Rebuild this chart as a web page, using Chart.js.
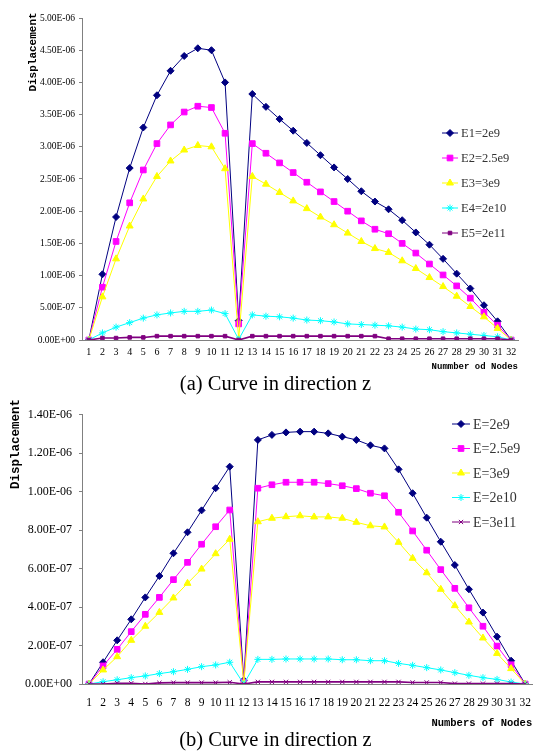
<!DOCTYPE html>
<html>
<head>
<meta charset="utf-8">
<script src="https://cdn.jsdelivr.net/npm/chart.js@4.4.0/dist/chart.umd.min.js"></script>
<style>
  body { margin: 0; background: #fff; width: 543px; height: 752px; position: relative; overflow: hidden; }
  canvas { position: absolute; left: 0; }
  #chartA { top: 0; }
  #chartB { top: 390px; }
  .cap { position: absolute; left: 4px; width: 543px; text-align: center; font: 20.5px "Liberation Serif", serif; line-height: 1; color: #000; }
</style>
</head>
<body>
<canvas id="chartA" width="543" height="375"></canvas>
<canvas id="chartB" width="543" height="345"></canvas>
<div class="cap" style="top:373px">(a) Curve in direction z</div>
<div class="cap" style="top:729px">(b) Curve in direction z</div>
<script>
const nodes = ['1','2','3','4','5','6','7','8','9','10','11','12','13','14','15','16',
  '17','18','19','20','21','22','23','24','25','26','27','28','29','30','31','32'];

// (a) displacement, first curve
const labelsA = ['E1=2e9', 'E2=2.5e9', 'E3=3e9', 'E4=2e10', 'E5=2e11'];
const aE1 = [0, 1.02e-6, 1.91e-6, 2.67e-6, 3.30e-6, 3.80e-6, 4.18e-6, 4.41e-6, 4.53e-6, 4.50e-6, 4.00e-6, 0.30e-6,
  3.82e-6, 3.62e-6, 3.43e-6, 3.25e-6, 3.06e-6, 2.87e-6, 2.68e-6, 2.50e-6, 2.31e-6, 2.15e-6, 2.03e-6, 1.86e-6,
  1.67e-6, 1.48e-6, 1.26e-6, 1.03e-6, 0.80e-6, 0.54e-6, 0.29e-6, 0];
const aE2 = [0, 0.82e-6, 1.53e-6, 2.13e-6, 2.64e-6, 3.05e-6, 3.34e-6, 3.54e-6, 3.63e-6, 3.61e-6, 3.21e-6, 0.25e-6,
  3.05e-6, 2.90e-6, 2.75e-6, 2.60e-6, 2.45e-6, 2.30e-6, 2.15e-6, 2.00e-6, 1.85e-6, 1.72e-6, 1.65e-6, 1.50e-6,
  1.35e-6, 1.18e-6, 1.01e-6, 0.84e-6, 0.65e-6, 0.43e-6, 0.23e-6, 0];
const aE3 = [0, 0.67e-6, 1.26e-6, 1.77e-6, 2.19e-6, 2.54e-6, 2.78e-6, 2.95e-6, 3.02e-6, 3.00e-6, 2.66e-6, 0.02e-6,
  2.54e-6, 2.42e-6, 2.29e-6, 2.16e-6, 2.04e-6, 1.91e-6, 1.79e-6, 1.66e-6, 1.53e-6, 1.42e-6, 1.36e-6, 1.23e-6,
  1.11e-6, 0.97e-6, 0.83e-6, 0.68e-6, 0.52e-6, 0.36e-6, 0.18e-6, 0];
const aE4 = [0, 0.11e-6, 0.20e-6, 0.27e-6, 0.34e-6, 0.39e-6, 0.42e-6, 0.445e-6, 0.445e-6, 0.465e-6, 0.41e-6, 0.01e-6,
  0.39e-6, 0.37e-6, 0.36e-6, 0.34e-6, 0.31e-6, 0.30e-6, 0.28e-6, 0.25e-6, 0.24e-6, 0.23e-6, 0.22e-6, 0.20e-6,
  0.17e-6, 0.16e-6, 0.13e-6, 0.11e-6, 0.09e-6, 0.07e-6, 0.05e-6, 0];
const aE5 = [0, 0.03e-6, 0.03e-6, 0.04e-6, 0.04e-6, 0.06e-6, 0.06e-6, 0.06e-6, 0.06e-6, 0.06e-6, 0.06e-6, 0,
  0.06e-6, 0.06e-6, 0.06e-6, 0.06e-6, 0.06e-6, 0.06e-6, 0.06e-6, 0.06e-6, 0.06e-6, 0.06e-6, 0.02e-6, 0.02e-6,
  0.02e-6, 0.02e-6, 0.02e-6, 0.02e-6, 0.02e-6, 0.02e-6, 0.02e-6, 0];

// (b) displacement, second curve
const labelsB = ['E=2e9', 'E=2.5e9', 'E=3e9', 'E=2e10', 'E=3e11'];
const bE1 = [0, 0.113e-6, 0.227e-6, 0.336e-6, 0.450e-6, 0.561e-6, 0.679e-6, 0.788e-6, 0.902e-6, 1.017e-6, 1.129e-6, 0.02e-6,
  1.268e-6, 1.294e-6, 1.307e-6, 1.311e-6, 1.311e-6, 1.302e-6, 1.285e-6, 1.268e-6, 1.240e-6, 1.224e-6, 1.115e-6, 0.991e-6,
  0.864e-6, 0.739e-6, 0.618e-6, 0.492e-6, 0.371e-6, 0.246e-6, 0.121e-6, 0];
const bE2 = [0, 0.094e-6, 0.180e-6, 0.272e-6, 0.362e-6, 0.450e-6, 0.542e-6, 0.632e-6, 0.726e-6, 0.817e-6, 0.904e-6, 0.01e-6,
  1.017e-6, 1.035e-6, 1.048e-6, 1.048e-6, 1.048e-6, 1.041e-6, 1.030e-6, 1.015e-6, 0.991e-6, 0.978e-6, 0.892e-6, 0.795e-6,
  0.695e-6, 0.594e-6, 0.497e-6, 0.396e-6, 0.300e-6, 0.197e-6, 0.100e-6, 0];
const bE3 = [0, 0.073e-6, 0.142e-6, 0.227e-6, 0.300e-6, 0.372e-6, 0.447e-6, 0.523e-6, 0.597e-6, 0.677e-6, 0.752e-6, 0.005e-6,
  0.843e-6, 0.861e-6, 0.869e-6, 0.874e-6, 0.868e-6, 0.868e-6, 0.861e-6, 0.840e-6, 0.822e-6, 0.816e-6, 0.736e-6, 0.653e-6,
  0.578e-6, 0.492e-6, 0.407e-6, 0.322e-6, 0.239e-6, 0.159e-6, 0.080e-6, 0];
const bE4 = [0, 0.012e-6, 0.022e-6, 0.033e-6, 0.042e-6, 0.054e-6, 0.064e-6, 0.076e-6, 0.090e-6, 0.099e-6, 0.113e-6, 0,
  0.128e-6, 0.128e-6, 0.130e-6, 0.130e-6, 0.130e-6, 0.130e-6, 0.126e-6, 0.126e-6, 0.121e-6, 0.121e-6, 0.107e-6, 0.097e-6,
  0.085e-6, 0.073e-6, 0.059e-6, 0.045e-6, 0.033e-6, 0.024e-6, 0.010e-6, 0];
const bE5 = [0, 0, 0.004e-6, 0.004e-6, 0, 0.006e-6, 0.007e-6, 0.007e-6, 0.007e-6, 0.007e-6, 0.009e-6, 0,
  0.011e-6, 0.011e-6, 0.011e-6, 0.011e-6, 0.011e-6, 0.011e-6, 0.011e-6, 0.011e-6, 0.011e-6, 0.011e-6, 0.011e-6, 0.008e-6,
  0.008e-6, 0.008e-6, 0.002e-6, 0.002e-6, 0.002e-6, 0.002e-6, 0.002e-6, 0];

const colors = ['#000080', '#ff00ff', '#ffff00', '#00ffff', '#800080'];

// 5.00E-06 style labels like excel
const sciLabel = (v) => {
  if (Math.abs(v) < 1e-12) return '0.00E+00';
  const parts = v.toExponential(2).split('e');
  const sign = parts[1][0];
  const exp = parts[1].slice(1).padStart(2, '0');
  return parts[0] + 'E' + sign + exp;
};

// y title + legend drawn inside the chart like the excel picture
const overlayPlugin = {
  id: 'overlay',
  afterDraw(chart, args, opts) {
    const ctx = chart.ctx;
    ctx.save();
    if (opts.yTitle) {
      const t = opts.yTitle;
      ctx.translate(t.x, t.y);
      ctx.rotate(-Math.PI / 2);
      ctx.font = t.font;
      ctx.fillStyle = '#000';
      ctx.textAlign = 'center';
      ctx.textBaseline = 'middle';
      ctx.fillText(t.text, 0, 0);
      ctx.setTransform(1, 0, 0, 1, 0, 0);
    }
    if (opts.legend) {
      const lg = opts.legend;
      chart.data.datasets.forEach((ds, i) => {
        const y = lg.y + i * lg.gap;
        ctx.strokeStyle = ds.borderColor;
        ctx.fillStyle = ds.borderColor;
        ctx.lineWidth = 1;
        ctx.beginPath();
        ctx.moveTo(lg.x, y);
        ctx.lineTo(lg.x + lg.len, y);
        ctx.stroke();
        Chart.helpers.drawPoint(ctx, {
          pointStyle: ds.pointStyle, radius: ds.pointRadius, rotation: 0, borderWidth: 1
        }, lg.x + lg.len / 2, y);
        ctx.fillStyle = '#333';
        ctx.font = lg.font;
        ctx.textAlign = 'left';
        ctx.textBaseline = 'middle';
        ctx.fillText(ds.label, lg.x + lg.len + 3, y + 1);
      });
    }
    ctx.restore();
  }
};

const makeDatasets = (labels, series, styles, radii) => series.map((vals, i) => ({
  label: labels[i],
  data: vals,
  borderColor: colors[i],
  backgroundColor: colors[i],
  pointBackgroundColor: colors[i],
  pointBorderColor: colors[i],
  borderWidth: i === 4 ? 1.6 : 1,
  pointStyle: styles[i],
  pointRadius: radii[i],
  pointBorderWidth: 1,
  tension: 0,
  fill: false,
  order: 5 - i
}));

const buildChart = (id, cfg) => {
  const ctx = document.getElementById(id).getContext('2d');
  return new Chart(ctx, {
    type: 'line',
    data: {
      labels: nodes,
      datasets: makeDatasets(cfg.labels, cfg.series, cfg.styles, cfg.radii)
    },
    options: {
      responsive: false,
      animation: false,
      events: [],
      layout: { padding: cfg.padding },
      plugins: {
        legend: { display: false },
        tooltip: { enabled: false },
        overlay: { yTitle: cfg.yTitle, legend: cfg.legend }
      },
      scales: {
        x: {
          offset: true,
          grid: { display: false, drawTicks: false },
          border: { display: true, color: '#808080' },
          ticks: { font: cfg.xFont, color: '#000', padding: cfg.xPad, maxRotation: 0, autoSkip: false },
          title: {
            display: true, text: cfg.xTitle, align: 'end', color: '#000',
            font: cfg.xTitleFont, padding: { top: 0, bottom: cfg.xTitlePad }
          },
          afterFit: (s) => { s.height = cfg.xHeight; }
        },
        y: {
          min: 0,
          max: cfg.yMax,
          grid: { display: true, drawOnChartArea: false, drawTicks: true, tickLength: 3, color: '#808080' },
          border: { display: true, color: '#808080' },
          ticks: { stepSize: cfg.yStep, callback: sciLabel, font: cfg.yFont, color: '#000', padding: cfg.yPad },
          afterFit: (s) => { s.width = 82; }
        }
      }
    },
    plugins: [overlayPlugin]
  });
};

document.addEventListener('DOMContentLoaded', () => {
  try {
    buildChart('chartA', {
      labels: labelsA,
      series: [aE1, aE2, aE3, aE4, aE5],
      styles: ['rectRot', 'rect', 'triangle', 'star', 'rect'],
      radii: [3.5, 4, 4, 3.5, 2.5],
      padding: { top: 18, right: 25, left: 0, bottom: 0 },
      yMax: 5e-6,
      yStep: 5e-7,
      yFont: { family: 'Liberation Serif', size: 9.5 },
      yPad: 4,
      xFont: { family: 'Liberation Serif', size: 10 },
      xPad: 6,
      xHeight: 35,
      xTitle: 'Nummber od Nodes',
      xTitleFont: { family: 'Liberation Mono', size: 9, weight: 'bold' },
      xTitlePad: 3,
      yTitle: { text: 'Displacement', x: 33, y: 52, font: 'bold 11px "Liberation Mono"' },
      legend: { x: 442, y: 133, gap: 25, len: 16, font: '12.5px "Liberation Serif"' }
    });

    buildChart('chartB', {
      labels: labelsB,
      series: [bE1, bE2, bE3, bE4, bE5],
      styles: ['rectRot', 'rect', 'triangle', 'star', 'crossRot'],
      radii: [3.5, 4, 4, 3.5, 3],
      padding: { top: 24.5, right: 3, left: 0, bottom: 0 },
      yMax: 1.4e-6,
      yStep: 2e-7,
      yFont: { family: 'Liberation Serif', size: 12 },
      yPad: 7,
      xFont: { family: 'Liberation Serif', size: 11.5 },
      xPad: 12,
      xHeight: 51,
      xTitle: 'Numbers of Nodes',
      xTitleFont: { family: 'Liberation Mono', size: 10.5, weight: 'bold' },
      xTitlePad: 5,
      yTitle: { text: 'Displacement', x: 16, y: 54, font: 'bold 12.5px "Liberation Mono"' },
      legend: { x: 452, y: 34, gap: 24.5, len: 18, font: '14px "Liberation Serif"' }
    });
  } catch (error) {
    console.error('Error generating chart:', error);
  }
});
</script>
</body>
</html>
